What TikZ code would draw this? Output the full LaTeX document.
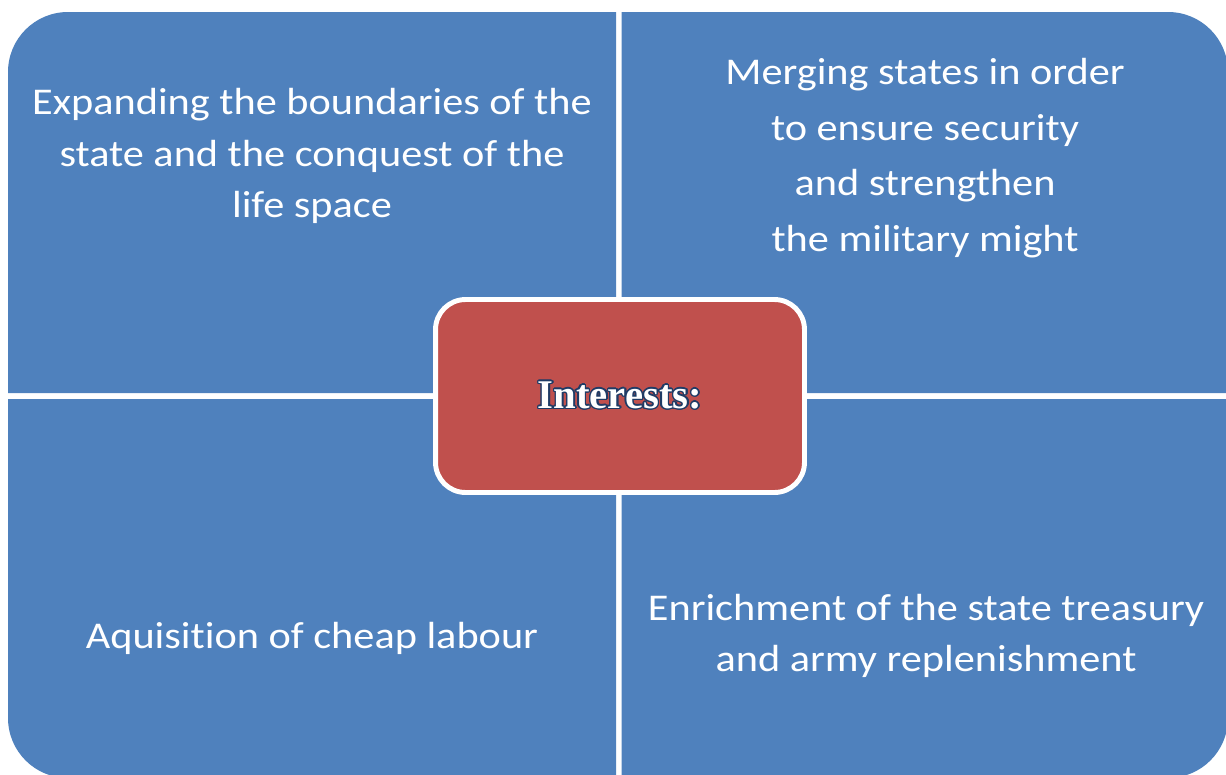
\documentclass[tikz,border=0pt]{standalone}
\usepackage{fontspec}
\setmainfont{Carlito}[FakeStretch=1.12,Ligatures=NoCommon]
\newfontfamily\hubfont{Liberation Serif}
\usepackage[copies]{contour}
\contourlength{0.8pt}
\usetikzlibrary{positioning}
\definecolor{quadblue}{HTML}{4F81BD}
\definecolor{hubred}{HTML}{C0504D}
\definecolor{outlineblue}{HTML}{1F3B66}

\begin{document}
\begin{tikzpicture}[x=0.02cm,y=-0.02cm,
  quadtext/.style={text=white,align=center,font=\fontsize{21.5}{29.2}\selectfont},
  hub/.style={fill=hubred,draw=white,line width=2.8pt,rounded corners=0.6cm,
    minimum width=7.38cm,minimum height=3.86cm,text=white,
    font=\hubfont\bfseries\fontsize{23.2}{26}\selectfont}]
\useasboundingbox (0,0) rectangle (1226,774);
\clip (0,0) rectangle (1226,774);
% four quadrants, only the outer corner rounded
\fill[quadblue] (616,393) -- (616,12) [rounded corners=1.2cm] -- (8,12) [sharp corners] -- (8,393) -- cycle;
\fill[quadblue] (621.5,393) -- (621.5,12) [rounded corners=1.2cm] -- (1228,12) [sharp corners] -- (1228,393) -- cycle;
\fill[quadblue] (616,399) -- (616,778) [rounded corners=1.2cm] -- (8,778) [sharp corners] -- (8,399) -- cycle;
\fill[quadblue] (621.5,399) -- (621.5,778) [rounded corners=1.2cm] -- (1228,778) [sharp corners] -- (1228,399) -- cycle;
\node[quadtext] (expand) at (312,156) {Expanding the boundaries of the\\state and the conquest of the\\life space};
\node[quadtext,font=\fontsize{21.5}{31.7}\selectfont] (merge) at (925,158) {Merging states in order\\to ensure security\\and strengthen\\the military might};
\node[quadtext] (labour) at (312,638) {Aquisition of cheap labour};
\node[quadtext] (treasury) at (926,636) {Enrichment of the state treasury\\and army replenishment};
% centre box
\node[hub] (interests) at (620,396) {\contour{outlineblue}{Interests:}};
\end{tikzpicture}
\end{document}
